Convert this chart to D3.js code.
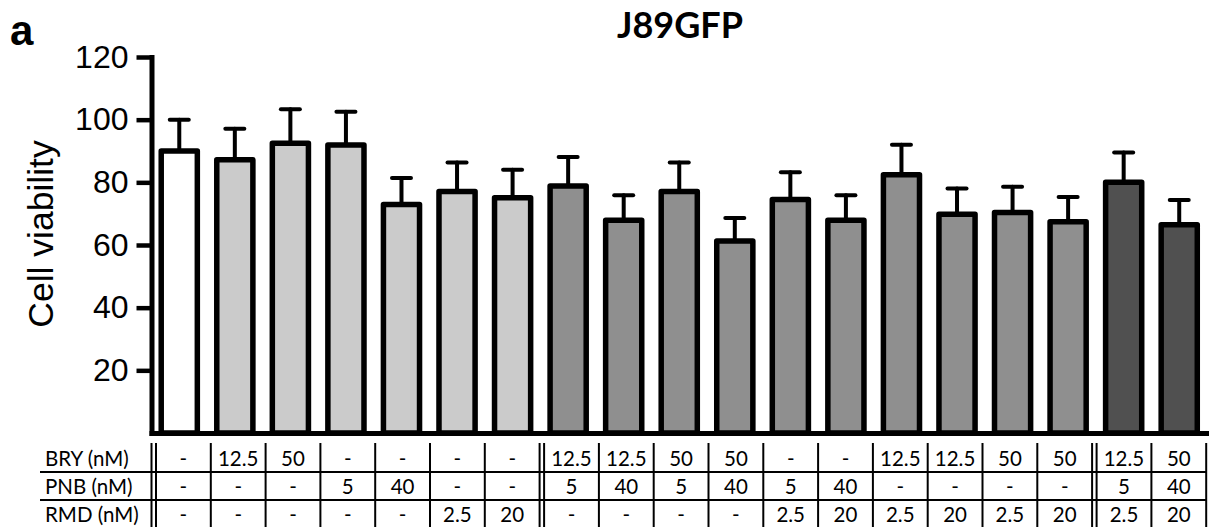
<!DOCTYPE html>
<html>
<head>
<meta charset="utf-8">
<script src="https://cdn.jsdelivr.net/npm/d3@7"></script>
<style>
  html, body { margin: 0; padding: 0; background: #fff; }
  svg { display: block; }
</style>
</head>
<body>
<svg id="chart" width="1209" height="527"></svg>
<script>
// Treatment concentrations per bar (table rows below the chart)
const bry = ["-", "12.5", "50", "-", "-", "-", "-", "12.5", "12.5", "50", "50", "-", "-", "12.5", "12.5", "50", "50", "12.5", "50"];
const pnb = ["-", "-", "-", "5", "40", "-", "-", "5", "40", "5", "40", "5", "40", "-", "-", "-", "-", "5", "40"];
const rmd = ["-", "-", "-", "-", "-", "2.5", "20", "-", "-", "-", "-", "2.5", "20", "2.5", "20", "2.5", "20", "2.5", "20"];
const rowLabels = ["BRY (nM)", "PNB (nM)", "RMD (nM)"];

// Mean cell viability and error (SD) for each condition
const viability = [90, 87.2, 92.5, 91.9, 72.9, 77.1, 75.1, 78.8, 67.9, 77.1, 61.3, 74.5, 67.9, 82.4, 69.8, 70.4, 67.4, 80.0, 66.5];
const errors    = [10, 9.9, 10.8, 10.6, 8.5, 9.2, 8.9, 9.3, 8.0, 9.2, 7.3, 8.7, 8.0, 9.6, 8.2, 8.2, 7.9, 9.5, 7.9];
// Treatment group of each bar: 0 control, 1 single drug, 2 two drugs, 3 three drugs
const groups    = [0, 1, 1, 1, 1, 1, 1, 2, 2, 2, 2, 2, 2, 2, 2, 2, 2, 3, 3];
const groupFill = ["#ffffff", "#cbcbcb", "#8f8f8f", "#505050"];

const yTicks = [20, 40, 60, 80, 100, 120];

const svg = d3.select("#chart");

const x = d3.scaleBand()
  .domain(d3.range(viability.length))
  .range([151.5, 1207])
  .paddingInner(0.35)
  .paddingOuter(0.175);

const y = d3.scaleLinear().domain([0, 120]).range([433, 57]);

// Panel letter and title
svg.append("text")
  .attr("x", 10).attr("y", 45)
  .attr("font-family", "Liberation Sans, Arial, sans-serif")
  .attr("font-weight", "bold").attr("font-size", 42)
  .text("a");

svg.append("text")
  .attr("x", 680).attr("y", 38)
  .attr("text-anchor", "middle")
  .attr("font-family", "Lato, sans-serif")
  .attr("font-weight", "bold").attr("font-size", 36)
  .text("J89GFP");

// Y axis title
svg.append("text")
  .attr("transform", "translate(53,234) rotate(-90)")
  .attr("text-anchor", "middle")
  .attr("font-family", "Liberation Sans, Arial, sans-serif")
  .attr("font-size", 35.5)
  .text("Cell viability");

// Error bars (upper only)
const eb = svg.append("g").attr("stroke", "#000").attr("stroke-width", 4).attr("stroke-linecap", "round");
viability.forEach((v, i) => {
  const cx = x(i) + x.bandwidth() / 2;
  eb.append("line")
    .attr("x1", cx).attr("x2", cx)
    .attr("y1", y(v)).attr("y2", y(v + errors[i]));
  eb.append("line")
    .attr("x1", cx - 9.5).attr("x2", cx + 9.5)
    .attr("y1", y(v + errors[i])).attr("y2", y(v + errors[i]));
});

// Bars
svg.append("g").selectAll("rect")
  .data(viability)
  .join("rect")
  .attr("x", (d, i) => x(i))
  .attr("width", x.bandwidth())
  .attr("y", d => y(d))
  .attr("height", d => y(0) - y(d))
  .attr("fill", (d, i) => groupFill[groups[i]])
  .attr("stroke", "#000")
  .attr("stroke-width", 5.5)
  .attr("stroke-linejoin", "round");

// Axes
const yAxis = svg.append("g")
  .attr("transform", "translate(151.5,0)")
  .call(d3.axisLeft(y).tickValues(yTicks).tickSize(15).tickSizeOuter(0).tickPadding(8));
yAxis.select(".domain").attr("stroke-width", 5).attr("stroke-linecap", "square");
yAxis.selectAll(".tick line").attr("stroke-width", 4.5);
yAxis.selectAll(".tick text")
  .attr("font-family", "Liberation Sans, Arial, sans-serif")
  .attr("font-size", 32)
  .attr("fill", "#000");

const xAxis = svg.append("g")
  .attr("transform", `translate(0,${y(0)})`)
  .call(d3.axisBottom(x).tickSize(0).tickSizeOuter(0).tickFormat(""));
xAxis.select(".domain").attr("stroke-width", 5).attr("stroke-linecap", "square");

// Condition table
const colW = 54.8, tableLeft = 156, dblGap = 4.5;
const colStart = d3.range(viability.length).map(i =>
  tableLeft + i * colW + (i >= 7 ? dblGap : 0) + (i >= 17 ? dblGap : 0));
const tableRight = colStart[colStart.length - 1] + colW;
const rowTop = 443, rowH = 28, tableBottom = 527;
const rows = [bry, pnb, rmd];

const tbl = svg.append("g").attr("stroke", "#000").attr("stroke-width", 2);
// horizontal separators between rows
[1, 2].forEach(r => {
  const yy = rowTop + 1 + r * rowH;
  tbl.append("line").attr("x1", 40).attr("x2", tableRight).attr("y1", yy).attr("y2", yy);
});
// vertical separators (double lines between treatment groups)
const vLines = [tableLeft - dblGap];
colStart.forEach(s => { vLines.push(s); });
vLines.push(colStart[7] - dblGap, colStart[17] - dblGap, tableRight);
vLines.forEach(vx => {
  tbl.append("line").attr("x1", vx).attr("x2", vx).attr("y1", rowTop).attr("y2", tableBottom);
});

const txt = svg.append("g")
  .attr("font-family", "Lato, sans-serif")
  .attr("font-size", 20.5)
  .attr("fill", "#000");
rowLabels.forEach((lab, r) => {
  txt.append("text").attr("x", 45).attr("y", 466 + r * rowH).text(lab);
});
rows.forEach((row, r) => {
  row.forEach((val, i) => {
    txt.append("text")
      .attr("x", colStart[i] + colW / 2)
      .attr("y", 466 + r * rowH)
      .attr("text-anchor", "middle")
      .text(val);
  });
});
</script>
</body>
</html>
